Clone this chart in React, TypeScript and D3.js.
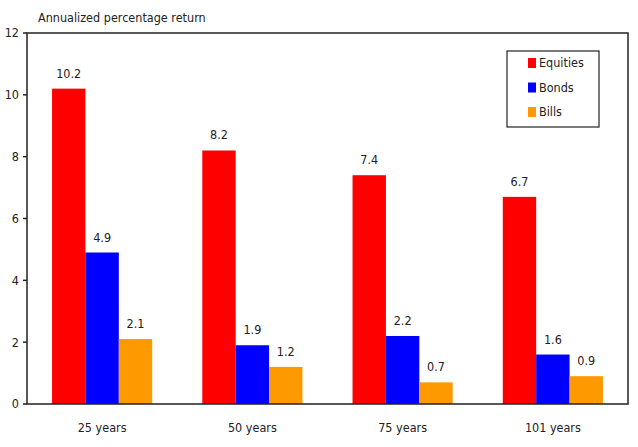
import * as d3 from "d3";
import * as React from "react";

const periods = ["25 years", "50 years", "75 years", "101 years"];
const seriesNames = ["Equities", "Bonds", "Bills"];
const equities = [10.2, 8.2, 7.4, 6.7];
const bonds = [4.9, 1.9, 2.2, 1.6];
const bills = [2.1, 1.2, 0.7, 0.9];
const yTicks = [0, 2, 4, 6, 8, 10, 12];
const colors = ["#ff0000", "#0000ff", "#ff9900"];

const font = "'DejaVu Sans Condensed', 'Liberation Sans', Arial, sans-serif";

export default function App() {
  const width = 638;
  const height = 447;
  const marginLeft = 27;
  const marginRight = 10;
  const marginTop = 33;
  const marginBottom = 43;
  const innerWidth = width - marginLeft - marginRight;
  const innerHeight = height - marginTop - marginBottom;

  const values = [equities, bonds, bills];

  const x0 = d3.scaleBand()
    .domain(periods)
    .range([0, innerWidth])
    .paddingInner(1 / 3)
    .paddingOuter(1 / 6);
  const x1 = d3.scaleBand()
    .domain(seriesNames)
    .range([0, x0.bandwidth()]);
  const y = d3.scaleLinear()
    .domain([0, 12])
    .range([innerHeight, 0]);

  const bars: JSX.Element[] = [];
  periods.forEach((p, i) => {
    seriesNames.forEach((s, j) => {
      const v = values[j][i];
      const bx = x0(p) + x1(s);
      bars.push(
        <g key={"bar_" + i + "_" + j}>
          <rect x={bx} y={y(v)} width={x1.bandwidth()} height={innerHeight - y(v)} fill={colors[j]} />
          <text x={bx + x1.bandwidth() / 2} y={y(v) - 11} textAnchor="middle"
            fontSize={12.5} fontFamily={font} fill="#222">{v.toFixed(1)}</text>
        </g>
      );
    });
  });

  return (
    <svg width={width} height={height} style={{ position: "absolute", left: 0, top: 0, background: "#fff" }}>
      <text x={38} y={22} fontSize={12.5} fontFamily={font} fill="#222">Annualized percentage return</text>
      <g transform={"translate(" + marginLeft + "," + marginTop + ")"}>
        {bars}
        {/* frame */}
        <rect x={0} y={0} width={innerWidth} height={innerHeight} fill="none" stroke="#222" strokeWidth={1.5} />
        {yTicks.map((t) => (
          <g key={"yt_" + t} transform={"translate(0," + y(t) + ")"}>
            <line x1={-4} x2={0} stroke="#222" strokeWidth={1.5} />
            <text x={-8} dy="0.35em" textAnchor="end" fontSize={12.5} fontFamily={font} fill="#222">{t}</text>
          </g>
        ))}
        {periods.map((p) => (
          <text key={"xl_" + p} x={x0(p) + x0.bandwidth() / 2} y={innerHeight + 28} textAnchor="middle"
            fontSize={12.5} fontFamily={font} fill="#222">{p}</text>
        ))}
        <g transform={"translate(" + (507 - marginLeft) + "," + (51 - marginTop) + ")"}>
          <rect x={0} y={0} width={92} height={76} fill="#fff" stroke="#222" strokeWidth={1.2} />
          {seriesNames.map((s, j) => (
            <g key={"lg_" + s} transform={"translate(21," + (12 + j * 24.5) + ")"}>
              <rect x={0} y={-5} width={8} height={10} fill={colors[j]} />
              <text x={11} dy="0.35em" fontSize={12.5} fontFamily={font} fill="#222">{s}</text>
            </g>
          ))}
        </g>
      </g>
    </svg>
  );
}
